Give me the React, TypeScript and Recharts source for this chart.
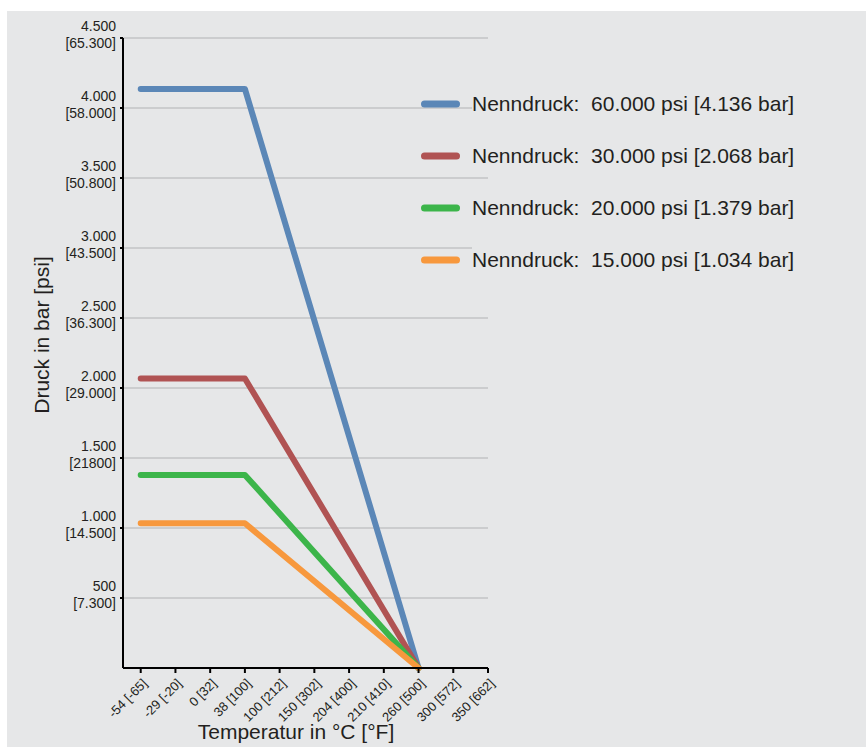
import React from 'react'
import {
  LineChart,
  Line,
  XAxis,
  YAxis,
  CartesianGrid,
  Legend,
  Label,
} from 'recharts'

const tempLabels = [
  '-54 [-65]',
  '-29 [-20]',
  '0 [32]',
  '38 [100]',
  '100 [212]',
  '150 [302]',
  '204 [400]',
  '210 [410]',
  '260 [500]',
  '300 [572]',
  '350 [662]',
]
const tempTicks = [0, 1, 2, 3, 4, 5, 6, 7, 8, 9, 10]

const yTicks = [500, 1000, 1500, 2000, 2500, 3000, 3500, 4000, 4500]
const yBarLabels = ['500', '1.000', '1.500', '2.000', '2.500', '3.000', '3.500', '4.000', '4.500']
const yPsiLabels = ['[7.300]', '[14.500]', '[21800]', '[29.000]', '[36.300]', '[43.500]', '[50.800]', '[58.000]', '[65.300]']

// points at -54 °C, 38 °C and 260 °C (index into tempLabels)
const pointIdx = [0, 3, 8]
const p60 = [4136, 4136, 0]
const p30 = [2068, 2068, 0]
const p20 = [1379, 1379, 0]
const p15 = [1034, 1034, 0]

const seriesNames = [
  'Nenndruck:  60.000 psi [4.136 bar]',
  'Nenndruck:  30.000 psi [2.068 bar]',
  'Nenndruck:  20.000 psi [1.379 bar]',
  'Nenndruck:  15.000 psi [1.034 bar]',
]
const seriesColors = ['#5b87b7', '#b05353', '#3cb54a', '#f7983d']

const data = pointIdx.map((t, i) => ({
  t,
  p60: p60[i],
  p30: p30[i],
  p20: p20[i],
  p15: p15[i],
}))

const seriesKeys = ['p60', 'p30', 'p20', 'p15']

const BG = '#e6e7e8'
const FONT = '"Liberation Sans", Arial, Helvetica, sans-serif'

const XTick = (props: any) => {
  const { x, y, payload } = props
  return (
    <g transform={`translate(${x + 4},${y + 6})`}>
      <text
        transform="rotate(-45)"
        textAnchor="end"
        dy="0.35em"
        fontSize={13}
        fill="#231f20"
        fontFamily={FONT}
      >
        {tempLabels[payload.value]}
      </text>
    </g>
  )
}

const YTick = (props: any) => {
  const { x, y, payload } = props
  const i = yTicks.indexOf(payload.value)
  return (
    <g>
      <text x={x - 2} y={y - 12} dy="0.35em" textAnchor="end" fontSize={14} fill="#231f20" fontFamily={FONT}>
        {yBarLabels[i]}
      </text>
      <text x={x - 2} y={y + 5} dy="0.35em" textAnchor="end" fontSize={14} fill="#231f20" fontFamily={FONT}>
        {yPsiLabels[i]}
      </text>
    </g>
  )
}

const renderLegend = (props: any) => {
  const payload = [...(props.payload || [])].sort(
    (a: any, b: any) => seriesNames.indexOf(a.value) - seriesNames.indexOf(b.value),
  )
  return (
    <div style={{ fontFamily: FONT }}>
      {payload.map((entry: any) => (
        <div key={entry.value} style={{ display: 'flex', alignItems: 'center', height: 52 }}>
          <svg width={51} height={12} style={{ display: 'block' }}>
            <line x1={3.5} x2={35.5} y1={6} y2={6} stroke={entry.color} strokeWidth={7} strokeLinecap="round" />
          </svg>
          <span
            style={{
              whiteSpace: 'pre',
              fontSize: 21,
              color: '#231f20',
              background: BG,
              lineHeight: '28px',
            }}
          >
            {entry.value}
          </span>
        </div>
      ))}
    </div>
  )
}

export default function App() {
  return (
    <div
      style={{
        position: 'absolute',
        left: 0,
        top: 0,
        width: 866,
        height: 747,
        background: '#ffffff',
      }}
    >
      <div style={{ position: 'absolute', left: 7, top: 11, right: 0, bottom: 0, background: BG }} />
      <div style={{ position: 'absolute', left: 0, top: 0 }}>
        <LineChart
          width={866}
          height={747}
          data={data}
          margin={{ top: 38, right: 378, left: 0, bottom: 0 }}
        >
          <CartesianGrid horizontal vertical={false} stroke="#b1b2b4" strokeWidth={1} />
          <XAxis
            dataKey="t"
            type="number"
            domain={[-0.51, 10]}
            ticks={tempTicks}
            interval={0}
            height={79}
            tick={<XTick />}
            tickSize={5}
            axisLine={{ stroke: '#000', strokeWidth: 2 }}
            tickLine={{ stroke: '#000', strokeWidth: 2 }}
          >
            <Label
              content={() => (
                <text x={296} y={732} dy="0.35em" textAnchor="middle" fontSize={21} fill="#231f20" fontFamily={FONT}>
                  Temperatur in °C [°F]
                </text>
              )}
            />
          </XAxis>
          <YAxis
            type="number"
            domain={[0, 4500]}
            ticks={yTicks}
            interval={0}
            width={123}
            tick={<YTick />}
            tickSize={3}
            axisLine={{ stroke: '#000', strokeWidth: 2 }}
            tickLine={{ stroke: '#000', strokeWidth: 2 }}
          >
            <Label
              content={() => (
                <text
                  x={42}
                  y={335}
                  dy="0.35em"
                  textAnchor="middle"
                  fontSize={21}
                  fill="#231f20"
                  fontFamily={FONT}
                  transform="rotate(-90, 42, 335)"
                >
                  Druck in bar [psi]
                </text>
              )}
            />
          </YAxis>
          <Legend
            layout="vertical"
            align="center"
            verticalAlign="middle"
            content={renderLegend}
            wrapperStyle={{ left: 421, top: 78, width: 440 }}
          />
          {seriesKeys.map((k, i) => (
            <Line
              key={k}
              dataKey={k}
              name={seriesNames[i]}
              type="linear"
              stroke={seriesColors[i]}
              strokeWidth={6}
              strokeLinecap="round"
              strokeLinejoin="round"
              dot={false}
              activeDot={false}
              isAnimationActive={false}
            />
          ))}
        </LineChart>
      </div>
    </div>
  )
}
